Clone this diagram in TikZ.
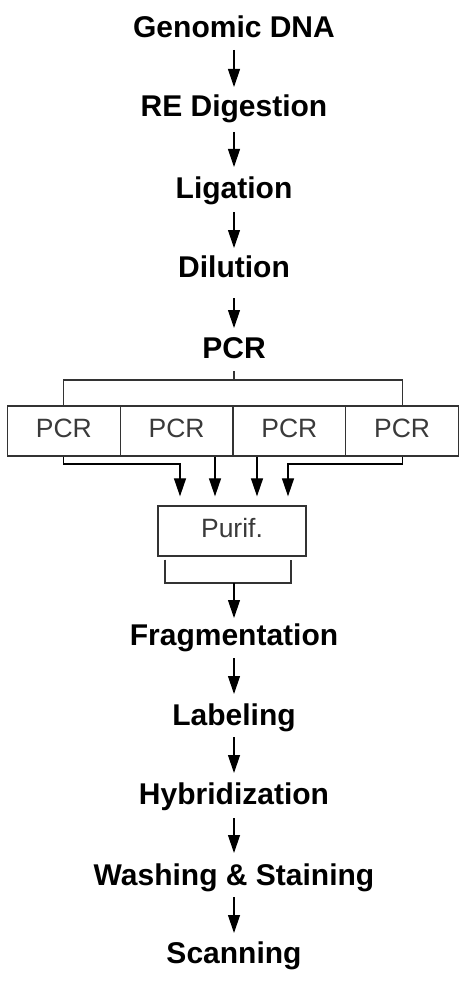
\documentclass[tikz,border=0pt]{standalone}
\usepackage{fontspec}
\setmainfont{Liberation Sans}
\usetikzlibrary{arrows.meta,calc}
\definecolor{boxgray}{HTML}{333333}
\definecolor{txtgray}{HTML}{3A3A3A}
\tikzset{
  stepbox/.style={anchor=base, inner sep=0pt, font=\fontsize{30}{34}\selectfont\bfseries, text=black},
  pcrbox/.style={draw=boxgray, line width=1.3pt, minimum height=50pt, inner sep=0pt,
     text height=19pt, text depth=6pt, font=\fontsize{26.5}{30}\selectfont, text=txtgray},
  arr/.style={line width=1.2pt, -{Triangle[width=12pt,length=18pt]}},
  ln/.style={line width=1.2pt, draw=boxgray},
  garr/.style={line width=1.2pt, draw=boxgray, -{Triangle[width=12pt,length=18pt]}},
}
\begin{document}
\begin{tikzpicture}[x=1pt,y=-1pt]
\useasboundingbox (0,0) rectangle (462,987);
% main steps
\node[stepbox] (g)  at (234,38)  {Genomic DNA};
\node[stepbox] (re) at (234,117) {RE Digestion};
\node[stepbox] (li) at (234,198) {Ligation};
\node[stepbox] (di) at (234,277) {Dilution};
\node[stepbox] (pc) at (234,358) {PCR};
\node[stepbox] (fr) at (234,645) {Fragmentation};
\node[stepbox] (la) at (234,725) {Labeling};
\node[stepbox] (hy) at (234,804) {Hybridization};
\node[stepbox] (wa) at (234,885) {Washing \& Staining};
\node[stepbox] (sc) at (234,963) {Scanning};
% arrows
\draw[arr] ([yshift=-12pt]g.base)  -- ([yshift=30pt]re.base);
\draw[arr] ([yshift=-15pt]re.base) -- ([yshift=31pt]li.base);
\draw[arr] ([yshift=-14pt]li.base) -- ([yshift=29pt]di.base);
\draw[arr] ([yshift=-21pt]di.base) -- ([yshift=30pt]pc.base);
\draw[arr] ([yshift=-13pt]fr.base) -- ([yshift=31pt]la.base);
\draw[arr] ([yshift=-12pt]la.base) -- ([yshift=31pt]hy.base);
\draw[arr] ([yshift=-14pt]hy.base) -- ([yshift=32pt]wa.base);
\draw[arr] ([yshift=-12pt]wa.base) -- ([yshift=30pt]sc.base);
% PCR boxes
\node[pcrbox, minimum width=112.75pt] (p1) at (63.875,431)  {PCR};
\node[pcrbox, minimum width=112.75pt] (p2) at (176.625,431) {PCR};
\node[pcrbox, minimum width=112.75pt] (p3) at (289.375,431) {PCR};
\node[pcrbox, minimum width=112.75pt] (p4) at (402.125,431) {PCR};
% top bracket
\coordinate (hb) at (234,380);
\draw[ln] ([yshift=-13pt]pc.base) -- (hb);
\draw[ln] (p1.north) |- (hb) -| (p4.north);
% Purif box
\node[pcrbox, minimum width=148pt] (pu) at (232,531) {Purif.};
\coordinate (pt) at ([yshift=9pt]pu.north);
% lines from PCR boxes to Purif
\coordinate (c1) at (180,464);
\coordinate (c2) at (215,464);
\coordinate (c3) at (257,464);
\coordinate (c4) at (288,464);
\draw[arr] (p1.south) |- (c1) -- (pt -| c1);
\draw[arr] (p2.south -| c2) -- (pt -| c2);
\draw[arr] (p3.south -| c3) -- (pt -| c3);
\draw[arr] (p4.south) |- (c4) -- (pt -| c4);
% bracket under Purif
\coordinate (bl) at (165,583);
\coordinate (br) at (291,583);
\coordinate (bm) at (234,583);
\draw[ln] ([yshift=-3pt]pu.south -| bl) -- (bl) -- (br) -- ([yshift=-3pt]pu.south -| br);
\draw[arr] (bm) -- ([yshift=27pt]fr.base);
\end{tikzpicture}
\end{document}
